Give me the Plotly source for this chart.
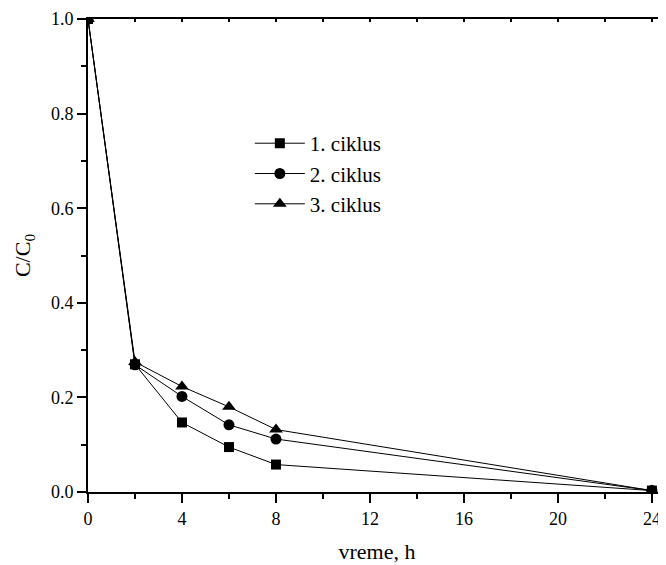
import plotly.graph_objects as go

time_h = [0, 2, 4, 6, 8, 24]
ciklus1 = [1.0, 0.270, 0.147, 0.095, 0.058, 0.003]
ciklus2 = [1.0, 0.269, 0.202, 0.142, 0.112, 0.003]
ciklus3 = [1.0, 0.275, 0.223, 0.180, 0.132, 0.003]
series_names = ["1. ciklus", "2. ciklus", "3. ciklus"]
symbols = ["square", "circle", "triangle-up"]
sizes = [10, 11, 12]

FONT = "Liberation Serif"

fig = go.Figure()
for name, ys, sym, sz in zip(series_names, [ciklus1, ciklus2, ciklus3], symbols, sizes):
    fig.add_trace(go.Scatter(
        x=time_h, y=ys, mode="lines+markers", name=name,
        line=dict(color="black", width=1),
        marker=dict(symbol=sym, size=sz, color="black"),
    ))

# invisible trace on top axis to enable it
fig.add_trace(go.Scatter(x=[], y=[], xaxis="x2", showlegend=False))

xr = [0, 24.6]
fig.update_layout(
    width=658, height=557,
    margin=dict(l=80, r=0, t=11, b=73, autoexpand=False),
    paper_bgcolor="white", plot_bgcolor="white",
    font=dict(family=FONT, size=18, color="black"),
    showlegend=True,
    legend=dict(x=0.28, y=0.78, xanchor="left", yanchor="top",
                bgcolor="rgba(0,0,0,0)", font=dict(family=FONT, size=21),
                itemwidth=50, tracegroupgap=0),
    xaxis=dict(range=xr, tickmode="linear", tick0=0, dtick=4, automargin=False,
               ticks="outside", ticklen=9, tickwidth=2, tickcolor="black",
               minor=dict(dtick=2, ticks="outside", ticklen=5, tickwidth=2, tickcolor="black"),
               showline=True, linewidth=2, linecolor="black",
               showgrid=False, zeroline=False,
               tickfont=dict(family=FONT, size=18),
               title=dict(text="vreme, h", font=dict(family=FONT, size=22), standoff=16)),
    xaxis2=dict(range=xr, overlaying="x", side="top", tickmode="linear", tick0=0, dtick=2,
                ticks="inside", ticklen=3, tickwidth=2, tickcolor="black", automargin=False,
                showticklabels=False, showline=True, linewidth=2, linecolor="black",
                showgrid=False, zeroline=False),
    yaxis=dict(range=[0, 1.0], tickmode="linear", tick0=0, dtick=0.2, tickformat=".1f",
               automargin=False,
               ticks="outside", ticklen=9, tickwidth=2, tickcolor="black",
               minor=dict(dtick=0.1, ticks="outside", ticklen=5, tickwidth=2, tickcolor="black"),
               showline=True, linewidth=2, linecolor="black",
               showgrid=False, zeroline=False,
               tickfont=dict(family=FONT, size=18),
               title=dict(text="C/C<sub>0</sub>", font=dict(family=FONT, size=22), standoff=14)),
)

fig.write_html("out.html")
